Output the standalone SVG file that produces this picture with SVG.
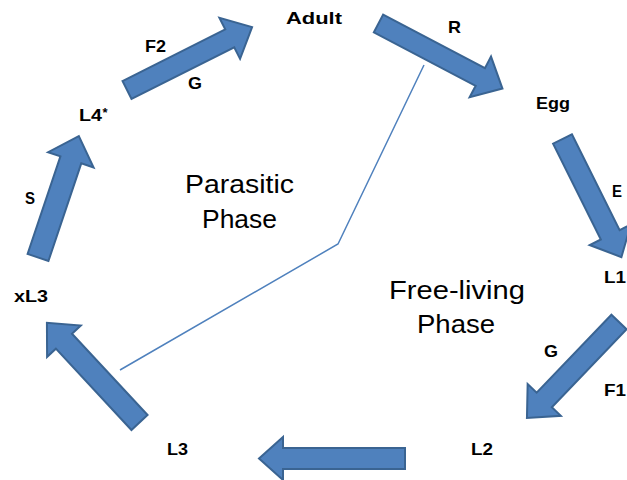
<svg xmlns="http://www.w3.org/2000/svg" width="627" height="480" viewBox="0 0 627 480">
<style>
.arr{fill:#4F81BD;stroke:#3A6492;stroke-width:2;stroke-linejoin:miter}
.lbl{font-family:"Liberation Sans",Arial,sans-serif;font-weight:bold;font-size:17px;fill:#000}
.ph{font-family:"Liberation Sans",Arial,sans-serif;font-size:25px;fill:#000}
.ln{fill:none;stroke:#4F81BD;stroke-width:1.5}
</style>
<rect width="627" height="480" fill="#fff"/>
<g id="connectors">
<polygon class="arr" transform="translate(127,90) rotate(-26.7)" points="0,-10 115,-10 115,-23 140,0 115,23 115,10 0,10"/>
<polygon class="arr" transform="translate(378.5,23.5) rotate(27.7)" points="0,-10 115,-10 115,-23 140,0 115,23 115,10 0,10"/>
<polygon class="arr" transform="translate(562.5,139) rotate(63.5)" points="0,-10.5 107,-10.5 107,-23 132,0 107,23 107,10.5 0,10.5"/>
<polygon class="arr" transform="translate(619,322) rotate(133.8)" points="0,-10.5 108,-10.5 108,-23 133,0 108,23 108,10.5 0,10.5"/>
<polygon class="arr" transform="translate(405,458.5) rotate(180)" points="0,-10.5 122,-10.5 122,-21.5 146,0 122,21.5 122,10.5 0,10.5"/>
<polygon class="arr" transform="translate(139.5,422.5) rotate(-132.9)" points="0,-11 111,-11 111,-23 136,0 111,23 111,11 0,11"/>
<polygon class="arr" transform="translate(38,257.5) rotate(-71.4)" points="0,-11 103,-11 103,-24 128,0 103,24 103,11 0,11"/>
<polyline class="ln" points="424,65 338,244 120,370"/>
</g>
<g id="node-adult"><text class="lbl" x="286" y="24" textLength="56" lengthAdjust="spacingAndGlyphs">Adult</text></g>
<g id="node-egg"><text class="lbl" x="536" y="109" textLength="34" lengthAdjust="spacingAndGlyphs">Egg</text></g>
<g id="node-l1"><text class="lbl" x="604" y="283" textLength="22" lengthAdjust="spacingAndGlyphs">L1</text></g>
<g id="node-l2"><text class="lbl" x="471" y="455" textLength="22" lengthAdjust="spacingAndGlyphs">L2</text></g>
<g id="node-l3"><text class="lbl" x="167" y="455" textLength="21" lengthAdjust="spacingAndGlyphs">L3</text></g>
<g id="node-xl3"><text class="lbl" x="14" y="302" textLength="34" lengthAdjust="spacingAndGlyphs">xL3</text></g>
<g id="node-l4"><text class="lbl" x="79" y="121" textLength="23" lengthAdjust="spacingAndGlyphs">L4</text><text class="lbl" x="102.5" y="117" style="font-size:13px">*</text></g>
<g id="labels">
<text class="lbl" x="145" y="52" textLength="21" lengthAdjust="spacingAndGlyphs">F2</text>
<text class="lbl" x="188" y="89" textLength="14" lengthAdjust="spacingAndGlyphs">G</text>
<text class="lbl" x="25" y="204" textLength="10" lengthAdjust="spacingAndGlyphs">S</text>
<text class="lbl" x="448" y="33" textLength="13" lengthAdjust="spacingAndGlyphs">R</text>
<text class="lbl" x="612" y="197" textLength="10" lengthAdjust="spacingAndGlyphs">E</text>
<text class="lbl" x="544" y="357" textLength="14" lengthAdjust="spacingAndGlyphs">G</text>
<text class="lbl" x="604" y="396" textLength="22" lengthAdjust="spacingAndGlyphs">F1</text>
</g>
<g id="phase-parasitic">
<text class="ph" x="185" y="193" textLength="109" lengthAdjust="spacingAndGlyphs">Parasitic</text>
<text class="ph" x="202" y="228" textLength="75" lengthAdjust="spacingAndGlyphs">Phase</text>
</g>
<g id="phase-free">
<text class="ph" x="389" y="299" textLength="136" lengthAdjust="spacingAndGlyphs">Free-living</text>
<text class="ph" x="417" y="333" textLength="78" lengthAdjust="spacingAndGlyphs">Phase</text>
</g>
</svg>
